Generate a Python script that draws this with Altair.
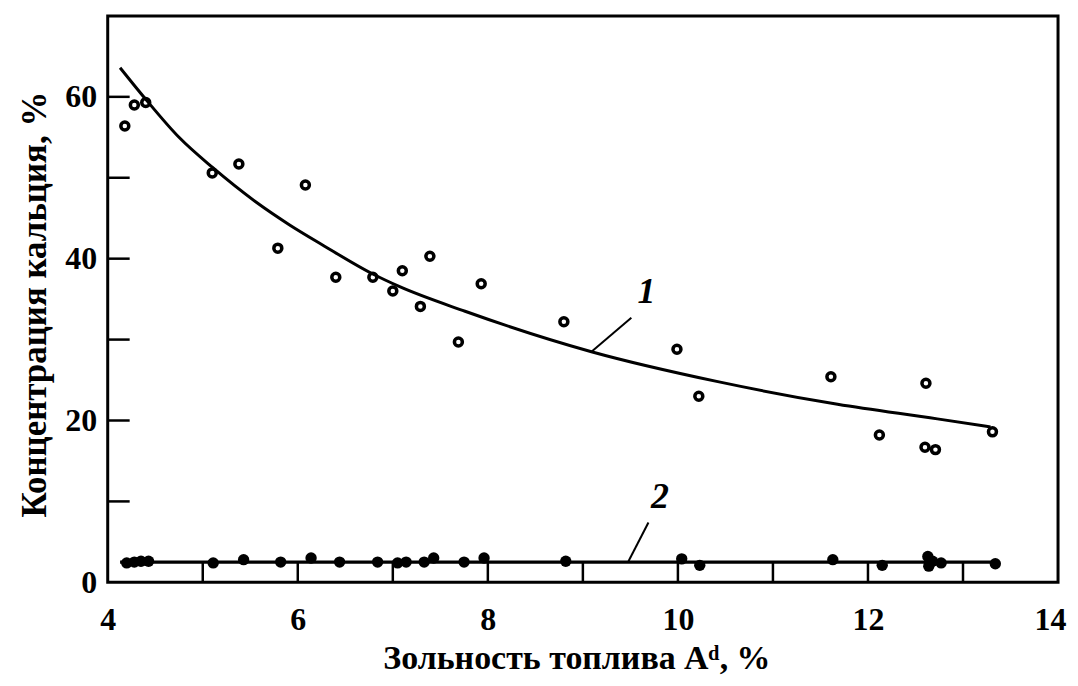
import altair as alt
import pandas as pd

# ---- data ----
# series 1: open circles
s1_x = [4.18, 4.28, 4.40, 5.10, 5.38, 6.08, 5.79, 6.40, 6.79, 7.00, 7.10, 7.29,
        7.39, 7.93, 7.69, 8.80, 9.99, 10.22, 11.61, 12.61, 12.12, 12.60, 12.71, 13.31]
s1_y = [56.4, 59.0, 59.3, 50.6, 51.7, 49.1, 41.3, 37.7, 37.7, 36.0, 38.5, 34.1,
        40.3, 36.9, 29.7, 32.2, 28.8, 23.0, 25.4, 24.6, 18.2, 16.7, 16.4, 18.6]

# fitted curve 1
c1_x = [4.13, 4.40, 4.75, 5.10, 5.56, 5.91, 6.26, 6.79, 7.06, 7.76, 9.09, 10.42, 11.68, 12.73, 13.29]
c1_y = [63.6, 59.7, 55.0, 51.3, 47.0, 44.2, 41.7, 38.1, 36.6, 33.5, 28.5, 24.8, 22.0, 20.2, 19.2]

# series 2: filled dots
s2_x = [4.20, 4.28, 4.35, 4.43, 5.11, 5.43, 5.82, 6.14, 6.44, 6.84, 7.05, 7.14, 7.33,
        7.43, 7.75, 7.96, 8.82, 10.04, 10.23, 11.63, 12.15, 12.63, 12.64, 12.68, 12.77, 13.34]
s2_y = [2.4, 2.5, 2.6, 2.6, 2.4, 2.8, 2.5, 3.0, 2.5, 2.5, 2.4, 2.5, 2.5,
        3.0, 2.5, 3.0, 2.6, 2.9, 2.1, 2.8, 2.1, 3.2, 2.0, 2.6, 2.4, 2.3]

# fitted line 2
c2_x = [4.13, 13.38]
c2_y = [2.5, 2.5]

# curve labels and leader lines
lab_text = ["1", "2"]
lab_x = [9.67, 9.81]
lab_y = [35.9, 10.6]
lead_x = [9.09, 9.51, 9.48, 9.69]
lead_y = [28.5, 32.7, 2.6, 7.4]
lead_g = ["1", "1", "2", "2"]

# axes
x_tick_labels = [4, 6, 8, 10, 12, 14]
y_tick_labels = [0, 20, 40, 60]
x_minor = [5, 6, 7, 8, 9, 10, 11, 12, 13]
y_minor = [10, 20, 30, 40, 50, 60]

FONT = "Liberation Serif"
W, H = 953, 568

xaxis = alt.Axis(values=x_tick_labels, title="Зольность топлива Aᵈ, %",
                 ticks=False, tickSize=0, domain=False, grid=False, labelFlush=False,
                 labelFont=FONT, labelFontSize=32, labelFontWeight="bold", labelColor="black",
                 labelBaseline="alphabetic", labelPadding=47,
                 labelOffset={"condition": {"test": "datum.value == 14", "value": -8}, "value": 0},
                 titleFont=FONT, titleFontSize=34, titleFontWeight="bold", titleColor="black",
                 titleX=470, titleY=86, titleBaseline="alphabetic", titleAlign="center")
yaxis = alt.Axis(values=y_tick_labels, title="Концентрация кальция, %",
                 ticks=False, tickSize=0, domain=False, grid=False, labelFlush=False,
                 labelFont=FONT, labelFontSize=32, labelFontWeight="bold", labelColor="black",
                 labelPadding=11,
                 titleFont=FONT, titleFontSize=35, titleFontWeight="bold", titleColor="black",
                 titleAngle=270, titleX=-62, titleY=289, titleBaseline="alphabetic",
                 titleAlign="center")

xs = alt.Scale(domain=[4, 14], nice=False, zero=False)
ys = alt.Scale(domain=[0, 70], nice=False, zero=False)
X = alt.X("x:Q", scale=xs, axis=xaxis)
Y = alt.Y("y:Q", scale=ys, axis=yaxis)

df_s1 = pd.DataFrame({"x": s1_x, "y": s1_y})
df_c1 = pd.DataFrame({"x": c1_x, "y": c1_y})
df_s2 = pd.DataFrame({"x": s2_x, "y": s2_y})
df_c2 = pd.DataFrame({"x": c2_x, "y": c2_y})
df_lab = pd.DataFrame({"x": lab_x, "y": lab_y, "t": lab_text})
df_lead = pd.DataFrame({"x": lead_x, "y": lead_y, "g": lead_g})
df_xt = pd.DataFrame({"x": x_minor})
df_yt = pd.DataFrame({"y": y_minor})

xticks = alt.Chart(df_xt).mark_rule(color="black", strokeWidth=2.5).encode(
    x=X, y=alt.value(H), y2=alt.value(H - 20))
yticks = alt.Chart(df_yt).mark_rule(color="black", strokeWidth=2.5).encode(
    y=Y, x=alt.value(0), x2=alt.value(22))

curve1 = alt.Chart(df_c1).mark_line(color="black", strokeWidth=3, interpolate="monotone").encode(x=X, y=Y)
line2 = alt.Chart(df_c2).mark_line(color="black", strokeWidth=3.2).encode(x=X, y=Y)
circles = alt.Chart(df_s1).mark_point(shape="circle", filled=False, color="black",
                                      size=64, strokeWidth=3.5, opacity=1).encode(x=X, y=Y)
dots = alt.Chart(df_s2).mark_point(shape="circle", filled=True, color="black",
                                   size=130, opacity=1).encode(x=X, y=Y)
leaders = alt.Chart(df_lead).mark_line(color="black", strokeWidth=2).encode(x=X, y=Y, detail="g:N")
labels = alt.Chart(df_lab).mark_text(font=FONT, fontSize=36, fontWeight="bold", fontStyle="italic",
                                     color="black", align="center", baseline="middle").encode(
    x=X, y=Y, text="t:N")

chart = alt.layer(xticks, yticks, curve1, line2, leaders, circles, dots, labels).properties(
    width=W, height=H,
    padding={"left": 100, "top": 7, "right": 12, "bottom": 95},
    autosize=alt.AutoSizeParams(type="none"),
    background="white",
).configure_view(stroke="black", strokeWidth=3)

chart.save("out.html", embed_options={"renderer": "svg", "actions": False})
